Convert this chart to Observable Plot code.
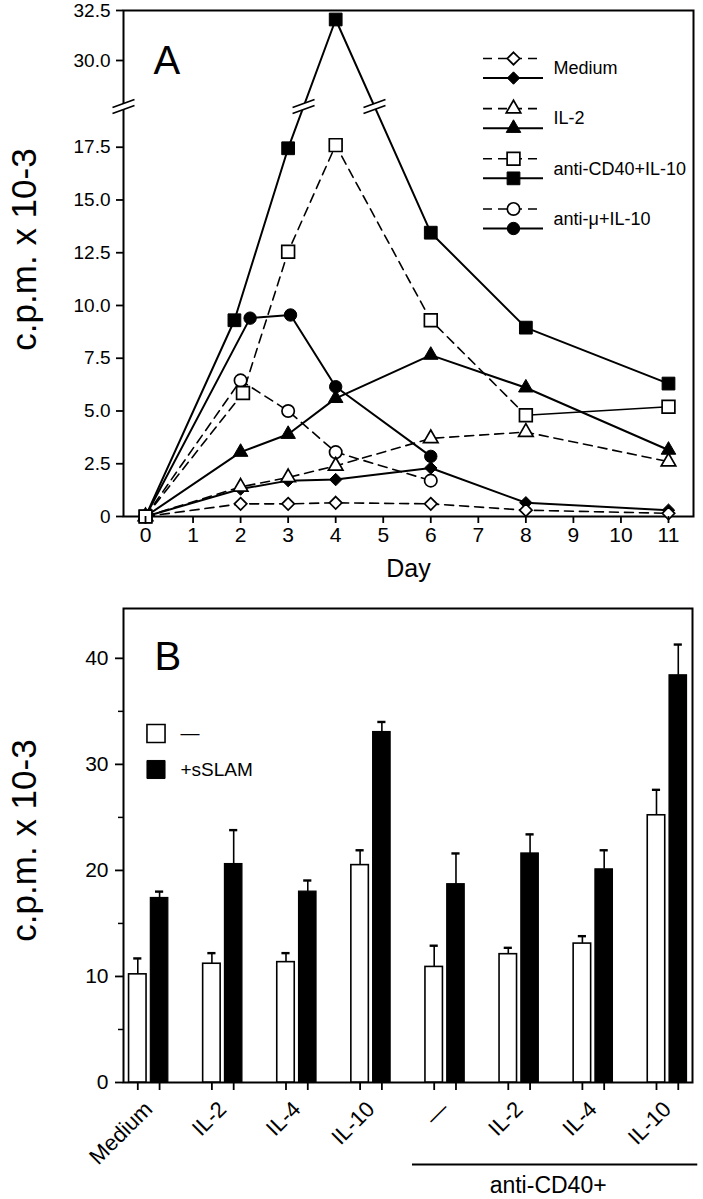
<!DOCTYPE html>
<html><head><meta charset="utf-8">
<script src="https://cdn.jsdelivr.net/npm/d3@7"></script>
<script src="https://cdn.jsdelivr.net/npm/@observablehq/plot@0.6"></script>
<style>
body{margin:0;background:#fff;font-family:"Liberation Sans",Arial,sans-serif;}
#wrap{position:relative;width:703px;height:1199px;overflow:hidden;}
#wrap svg{display:block;}
.ov{position:absolute;}
</style></head><body><div id="wrap"></div>
<script>
// ---------- Panel A data ----------
const dayTicks = [0,1,2,3,4,5,6,7,8,9,10,11];
const yTicksA = [0, 2.5, 5, 7.5, 10, 12.5, 15, 17.5, 30, 32.5];
const seriesNames = ["Medium", "IL-2", "anti-CD40+IL-10", "anti-\u03bc+IL-10"];
const seriesSymbols = ["diamond2", "triangle", "square", "circle"];

const mediumDays   = [0, 2, 3, 4, 6, 8, 11];
const mediumOpen   = [0, 0.6, 0.6, 0.65, 0.6, 0.3, 0.15];
const mediumFilled = [0, 1.3, 1.7, 1.75, 2.3, 0.65, 0.3];

const il2Days   = [0, 2, 3, 4, 6, 8, 11];
const il2Open   = [0, 1.4, 1.85, 2.4, 3.7, 4.0, 2.6];
const il2Filled = [0, 3.05, 3.9, 5.6, 7.65, 6.1, 3.15];

const cd40OpenDays   = [0, 2.05, 3, 4, 6, 8, 11];
const cd40Open       = [0, 5.85, 12.55, 17.6, 9.3, 4.8, 5.2];
const cd40FilledDays = [0, 1.87, 3, 4, 6, 8, 11];
const cd40Filled     = [0, 9.3, 17.45, 32.05, 13.45, 8.95, 6.3];

const muOpenDays   = [0, 2, 3, 4, 6];
const muOpen       = [0, 6.45, 5.0, 3.05, 1.7];
const muFilledDays = [0, 2.2, 3.05, 4, 6];
const muFilled     = [0, 9.4, 9.55, 6.15, 2.85];

// ---------- Panel B data ----------
const groupsB = ["Medium", "IL-2", "IL-4", "IL-10", "\u2014", "IL-2", "IL-4", "IL-10"];
const antiCD40Groups = [4, 5, 6, 7];
const withoutMean = [10.2, 11.2, 11.35, 20.5, 10.9, 12.1, 13.1, 25.2];
const withoutErr  = [1.5, 1.0, 0.85, 1.4, 2.0, 0.6, 0.7, 2.4];
const withMean    = [17.4, 20.6, 18.0, 33.05, 18.7, 21.6, 20.1, 38.4];
const withErr     = [0.6, 3.2, 1.05, 0.95, 2.9, 1.8, 1.8, 2.9];
const yTicksB = [0, 10, 20, 30, 40];
const yMinorB = [5, 15, 25, 35];
const legendB = ["\u2014", "+sSLAM"];

// ---------- setup ----------
const FONT = "'Liberation Sans', Arial, Helvetica, sans-serif";
const wrap = document.getElementById("wrap");

const series = [
  {name: seriesNames[0], symbol: seriesSymbols[0], r: 5.6, openDays: mediumDays, open: mediumOpen, filledDays: mediumDays, filled: mediumFilled, solidFrom: null},
  {name: seriesNames[1], symbol: seriesSymbols[1], r: 5.4, openDays: il2Days, open: il2Open, filledDays: il2Days, filled: il2Filled, solidFrom: null},
  {name: seriesNames[2], symbol: seriesSymbols[2], r: 7.2, openDays: cd40OpenDays, open: cd40Open, filledDays: cd40FilledDays, filled: cd40Filled, solidFrom: 8},
  {name: seriesNames[3], symbol: seriesSymbols[3], r: 6.2, openDays: muOpenDays, open: muOpen, filledDays: muFilledDays, filled: muFilled, solidFrom: null}
];

const xDomainA = [-0.463, 11.526];
const yBreak = [19.43, 27.7];
const yDomainA = [0, yBreak[0], yBreak[1], 32.5];
const yRangeA = [516, 106, 106, 10];
const yA = d3.scaleLinear().domain(yDomainA).range(yRangeA);
const breakPx = yA(yBreak[0]);

function crossings(xs, vs) {
  const out = [];
  for (let i = 0; i < xs.length - 1; i++) {
    const a = vs[i], b = vs[i + 1];
    if ((a <= yBreak[0] && b >= yBreak[1]) || (b <= yBreak[0] && a >= yBreak[1])) {
      const p0 = yA(a), p1 = yA(b);
      const t = (p0 - breakPx) / (p0 - p1);
      out.push({x: xs[i] + t * (xs[i + 1] - xs[i]), y: yBreak[0]});
    }
  }
  return out;
}

const breakFill = {draw(c) { c.moveTo(-11, 1); c.lineTo(11, -7); c.lineTo(11, -1); c.lineTo(-11, 7); c.closePath(); }};
const breakLines = {draw(c) { c.moveTo(-11, 1); c.lineTo(11, -7); c.moveTo(-11, 7); c.lineTo(11, -1); }};

const pts = (xs, vs) => xs.map((d, i) => ({day: d, v: vs[i]}));

const marksA = [Plot.frame({stroke: "black", strokeWidth: 2})];
const breaks = [{x: xDomainA[0], y: yBreak[0]}];
series.forEach(s => {
  const op = pts(s.openDays, s.open), fp = pts(s.filledDays, s.filled);
  const dashed = s.solidFrom == null ? op : op.filter(p => p.day <= s.solidFrom);
  marksA.push(Plot.line(dashed, {x: "day", y: "v", stroke: "black", strokeWidth: 1.6, strokeDasharray: "9,6"}));
  if (s.solidFrom != null) marksA.push(Plot.line(op.filter(p => p.day >= s.solidFrom), {x: "day", y: "v", stroke: "black", strokeWidth: 1.5}));
  marksA.push(Plot.line(fp, {x: "day", y: "v", stroke: "black", strokeWidth: 2}));
  breaks.push(...crossings(s.openDays, s.open), ...crossings(s.filledDays, s.filled));
});
marksA.push(Plot.dot(breaks, {x: "x", y: "y", symbol: breakFill, r: 5, fill: "white", stroke: "none"}));
marksA.push(Plot.dot(breaks, {x: "x", y: "y", symbol: breakLines, r: 5, fill: "none", stroke: "black", strokeWidth: 1.8}));
series.forEach(s => {
  marksA.push(Plot.dot(pts(s.filledDays, s.filled), {x: "day", y: "v", symbol: s.symbol, r: s.r, fill: "black", stroke: "black", strokeWidth: 1}));
});
[3, 1, 0, 2].forEach(k => {
  const s = series[k];
  marksA.push(Plot.dot(pts(s.openDays, s.open), {x: "day", y: "v", symbol: s.symbol, r: s.r, fill: "white", stroke: "black", strokeWidth: 1.7}));
});
marksA.push(
  Plot.axisY({ticks: yTicksA, tickFormat: d => d === 0 ? "0" : d.toFixed(1), tickSize: 7, tickPadding: 6, fontSize: 19, strokeWidth: 1.8, label: null}),
  Plot.axisX({ticks: dayTicks, tickFormat: d => String(d), tickSize: 7, tickPadding: 4, fontSize: 21, strokeWidth: 1.8, label: null}),
  Plot.text(["Day"], {frameAnchor: "bottom", dy: 52, fontSize: 25, lineAnchor: "middle"}),
  Plot.text(["c.p.m. x 10-3"], {frameAnchor: "left", rotate: -90, dx: -99, dy: -14, fontSize: 35, lineAnchor: "middle", textAnchor: "middle"}),
  Plot.text(["A"], {frameAnchor: "top-left", dx: 30, dy: 51, fontSize: 40, textAnchor: "start", lineAnchor: "middle"})
);

const plotA = Plot.plot({
  width: 703, height: 590,
  marginLeft: 123, marginRight: 10, marginTop: 10, marginBottom: 74,
  style: {fontFamily: FONT, color: "black", background: "transparent", overflow: "visible"},
  x: {domain: xDomainA},
  y: {type: "linear", domain: yDomainA, range: yRangeA},
  marks: marksA
});
wrap.appendChild(plotA);

// legend A (overlay)
const legRows = series.map((s, g) => ({name: s.name, g, symbol: s.symbol, r: s.r}));
const legMarks = [
  Plot.ruleY(legRows, {y: d => d.g, x1: () => 0, x2: () => 1, stroke: "black", strokeWidth: 1.6, strokeDasharray: "9,6"}),
  Plot.ruleY(legRows, {y: d => d.g + 0.39, x1: () => 0, x2: () => 1, stroke: "black", strokeWidth: 2})
];
legRows.forEach(d => {
  legMarks.push(Plot.dot([d], {x: () => 0.5, y: e => e.g, symbol: d.symbol, r: d.r, fill: "white", stroke: "black", strokeWidth: 1.7}));
  legMarks.push(Plot.dot([d], {x: () => 0.5, y: e => e.g + 0.39, symbol: d.symbol, r: d.r, fill: "black", stroke: "black", strokeWidth: 1}));
});
legMarks.push(Plot.text(legRows, {x: () => 1, y: d => d.g + 0.2, text: "name", dx: 10, textAnchor: "start", fontSize: 18}));
const legA = Plot.plot({
  width: 220, height: 240, margin: 0,
  style: {fontFamily: FONT, color: "black", background: "transparent", overflow: "visible"},
  x: {domain: [0, 1], range: [0, 60], axis: null},
  y: {domain: [0, 3.39], range: [58, 228], axis: null},
  marks: legMarks
});
legA.classList.add("ov");
legA.style.left = "483px"; legA.style.top = "0px"; legA.style.position = "absolute";
wrap.appendChild(legA);

// ---------- Panel B ----------
const offB = {none: -0.147, sslam: 0.147};
const hw = 0.118, cap = 0.055;
const barsB = groupsB.flatMap((g, i) => [
  {i, kind: "none", v: withoutMean[i], e: withoutErr[i]},
  {i, kind: "sslam", v: withMean[i], e: withErr[i]}
]);
const cx = d => d.i + offB[d.kind];
const barCenters = barsB.map(cx);
const antiStart = antiCD40Groups[0], antiEnd = antiCD40Groups[antiCD40Groups.length - 1];
const bx1 = antiStart - 0.44, bx2 = antiEnd + 0.41;

const plotB = Plot.plot({
  width: 703, height: 609,
  marginLeft: 123, marginRight: 11, marginTop: 18, marginBottom: 117,
  style: {fontFamily: FONT, color: "black", background: "transparent", overflow: "visible"},
  x: {type: "linear", domain: [-0.34, 7.339]},
  y: {domain: [0, 44.7]},
  marks: [
    Plot.frame({stroke: "black", strokeWidth: 2}),
    Plot.ruleX(barsB, {x: cx, y1: "v", y2: d => d.v + d.e, stroke: "black", strokeWidth: 1.6}),
    Plot.ruleY(barsB, {y: d => d.v + d.e, x1: d => cx(d) - cap, x2: d => cx(d) + cap, stroke: "black", strokeWidth: 2.4}),
    Plot.rect(barsB.filter(d => d.kind === "none"), {x1: d => cx(d) - hw, x2: d => cx(d) + hw, y1: () => 0, y2: "v", fill: "white", stroke: "black", strokeWidth: 1.6}),
    Plot.rect(barsB.filter(d => d.kind === "sslam"), {x1: d => cx(d) - hw, x2: d => cx(d) + hw, y1: () => 0, y2: "v", fill: "black", stroke: "black", strokeWidth: 1.2}),
    Plot.axisY({ticks: yTicksB, tickSize: 8, tickPadding: 7, fontSize: 21, strokeWidth: 1.8, label: null}),
    Plot.axisY({ticks: yMinorB, tickSize: 5, tickFormat: () => "", strokeWidth: 1.5, label: null}),
    Plot.axisX({ticks: barCenters, tickSize: 8, tickFormat: () => "", strokeWidth: 1.8, label: null}),
    Plot.axisX({ticks: groupsB.map((g, i) => i), tickSize: 0, tickPadding: 23, tickRotate: -45, tickFormat: i => groupsB[i], fontSize: 22, label: null}),
    Plot.ruleY([0], {x1: () => bx1, x2: () => bx2, dy: 82, stroke: "black", strokeWidth: 1.8}),
    Plot.text(["anti-CD40+"], {x: () => (bx1 + bx2) / 2, y: () => 0, dy: 103, dx: -7, fontSize: 23, lineAnchor: "middle"}),
    Plot.text(["c.p.m. x 10-3"], {frameAnchor: "left", rotate: -90, dx: -99, dy: -5, fontSize: 35, lineAnchor: "middle", textAnchor: "middle"}),
    Plot.text(["B"], {frameAnchor: "top-left", dx: 31, dy: 49, fontSize: 40, textAnchor: "start", lineAnchor: "middle"}),
    Plot.dot([legendB[0]], {frameAnchor: "top-left", dx: 32.5, dy: 125, symbol: "square", r: 10.2, fill: "white", stroke: "black", strokeWidth: 1.6}),
    Plot.dot([legendB[1]], {frameAnchor: "top-left", dx: 32.5, dy: 161, symbol: "square", r: 10.2, fill: "black", stroke: "black", strokeWidth: 1}),
    Plot.text([legendB[0]], {frameAnchor: "top-left", dx: 57, dy: 124, fontSize: 19, textAnchor: "start", lineAnchor: "middle"}),
    Plot.text([legendB[1]], {frameAnchor: "top-left", dx: 57, dy: 161, fontSize: 19, textAnchor: "start", lineAnchor: "middle"})
  ]
});
wrap.appendChild(plotB);
</script></body></html>
